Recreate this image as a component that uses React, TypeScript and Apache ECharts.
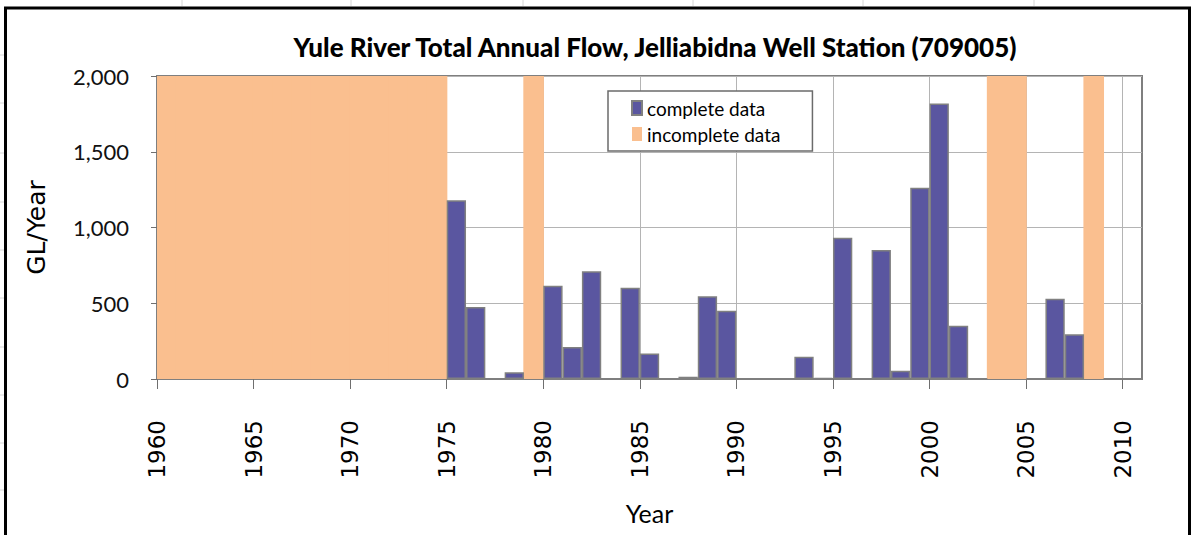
import React, { useEffect, useRef } from "react";
import * as echarts from "echarts";

const years: string[] = [];
for (let y = 1960; y <= 2010; y++) years.push(String(y));

// complete data (GL/Year), null where the year is incomplete
const completeData: (number | null)[] = [
  null, null, null, null, null, null, null, null, null, null, // 1960-1969
  null, null, null, null, null,                               // 1970-1974
  1180, 475, 0, 45, null,                                     // 1975-1979
  615, 212, 712, 0, 602, 168, 0, 15, 547, 450,                // 1980-1989
  0, 0, 0, 147, 8, 932, 0, 852, 55, 1262,                     // 1990-1999
  1818, 352, 0, null, null, 0, 530, 295, null, 0,             // 2000-2009
  0,                                                          // 2010
];

// incomplete data years drawn as full-height bars
const incompleteData: (number | null)[] = [
  2000, 2000, 2000, 2000, 2000, 2000, 2000, 2000, 2000, 2000, // 1960-1969
  2000, 2000, 2000, 2000, 2000,                               // 1970-1974
  null, null, null, null, 2000,                               // 1975-1979
  null, null, null, null, null, null, null, null, null, null, // 1980-1989
  null, null, null, null, null, null, null, null, null, null, // 1990-1999
  null, null, null, 2000, 2000, null, null, null, 2000, null, // 2000-2009
  null,                                                       // 2010
];

const xTickYears = [1960, 1965, 1970, 1975, 1980, 1985, 1990, 1995, 2000, 2005, 2010];
const yTicks = [0, 500, 1000, 1500, 2000];

const sheetColLines = [182, 351, 523, 693, 863, 1034];
const sheetRowLines = [55, 103, 153, 202, 250, 298, 347, 395, 443, 490];

export default function App() {
  const ref = useRef<HTMLDivElement>(null);
  useEffect(() => {
    if (!ref.current) return;
    const chart = echarts.init(ref.current, undefined, { renderer: "svg" });
    const graphics: any[] = [];
    sheetColLines.forEach((x) =>
      graphics.push({ type: "line", shape: { x1: x, y1: 0, x2: x, y2: 6 }, style: { stroke: "#d6d6d6", lineWidth: 1 }, silent: true })
    );
    sheetRowLines.forEach((y) =>
      graphics.push({ type: "line", shape: { x1: 0, y1: y, x2: 4, y2: y }, style: { stroke: "#d6d6d6", lineWidth: 1 }, silent: true })
    );
    graphics.push({
      type: "rect",
      shape: { x: 5.5, y: 8, width: 1184, height: 545 },
      style: { fill: "none", stroke: "#000", lineWidth: 3 },
      silent: true,
      z: 100,
    });
    chart.setOption({
      animation: false,
      backgroundColor: "#fff",
      title: {
        text: "Yule River Total Annual Flow, Jelliabidna Well Station (709005)",
        left: 650,
        textAlign: "center",
        top: 29,
        textStyle: { fontFamily: "Lato", fontWeight: 900, fontSize: 26, color: "#000" },
      },
      legend: {
        orient: "vertical",
        left: 608,
        top: 91,
        padding: [6, 32, 6, 23],
        itemGap: 4,
        itemWidth: 10,
        itemHeight: 14,
        icon: "rect",
        backgroundColor: "#fff",
        borderColor: "#6b6b6b",
        borderWidth: 1.5,
        borderRadius: 0,
        textStyle: { fontFamily: "Lato", fontSize: 19, color: "#000", lineHeight: 22 },
        data: ["complete data", "incomplete data"],
      },
      grid: {
        left: 157,
        right: 50,
        top: 76,
        bottom: 156,
        show: true,
        borderColor: "#7f7f7f",
        borderWidth: 2,
        backgroundColor: "#fff",
      },
      xAxis: [
        {
          type: "category",
          data: years,
          boundaryGap: true,
          show: false,
        },
        {
          type: "value",
          position: "bottom",
          min: 1960,
          max: 2011,
          interval: 5,
          axisLine: { show: true, onZero: false, lineStyle: { color: "#7f7f7f", width: 2 } },
          axisTick: { show: true, inside: false, length: 10, lineStyle: { color: "#6f6f6f", width: 1 }, customValues: xTickYears },
          axisLabel: {
            rotate: 90,
            margin: 41,
            fontFamily: "DejaVu Sans",
            fontSize: 23,
            color: "#000",
            customValues: xTickYears,
            formatter: (v: number) => (v % 5 === 0 ? String(v) : ""),
          },
          splitLine: { show: true, lineStyle: { color: "#b4b4b4", width: 1 } },
          name: "Year",
          nameLocation: "middle",
          nameGap: 121,
          nameTextStyle: { fontFamily: "Lato", fontSize: 25, color: "#000" },
        },
        {
          type: "category",
          data: years,
          boundaryGap: true,
          show: false,
        },
      ],
      yAxis: {
        type: "value",
        min: 0,
        max: 2000,
        interval: 500,
        axisLine: { show: true, lineStyle: { color: "#7f7f7f", width: 2 } },
        axisTick: { show: true, length: 6, lineStyle: { color: "#6f6f6f" } },
        axisLabel: {
          margin: 28,
          fontFamily: "Lato",
          fontSize: 22,
          color: "#111",
          customValues: yTicks,
          formatter: (v: number) => v.toLocaleString("en-US"),
        },
        splitLine: { show: true, lineStyle: { color: "#b4b4b4", width: 1 } },
        name: "GL/Year",
        nameLocation: "middle",
        nameGap: 108,
        nameTextStyle: { fontFamily: "DejaVu Sans", fontSize: 25, color: "#000" },
      },
      graphic: graphics,
      series: [
        {
          name: "complete data",
          type: "bar",
          xAxisIndex: 0,
          data: completeData,
          barCategoryGap: "0%",
          itemStyle: { color: "#5a56a0", borderColor: "#808080", borderWidth: 1.5 },
          z: 3,
        },
        {
          name: "incomplete data",
          type: "bar",
          xAxisIndex: 2,
          data: incompleteData,
          barWidth: 20.6,
          itemStyle: { color: "#fabf8f" },
          z: 2,
        },
      ],
    });
    return () => chart.dispose();
  }, []);
  return (
    <div
      ref={ref}
      style={{ position: "fixed", left: 0, top: 0, width: 1192, height: 535 }}
    />
  );
}
